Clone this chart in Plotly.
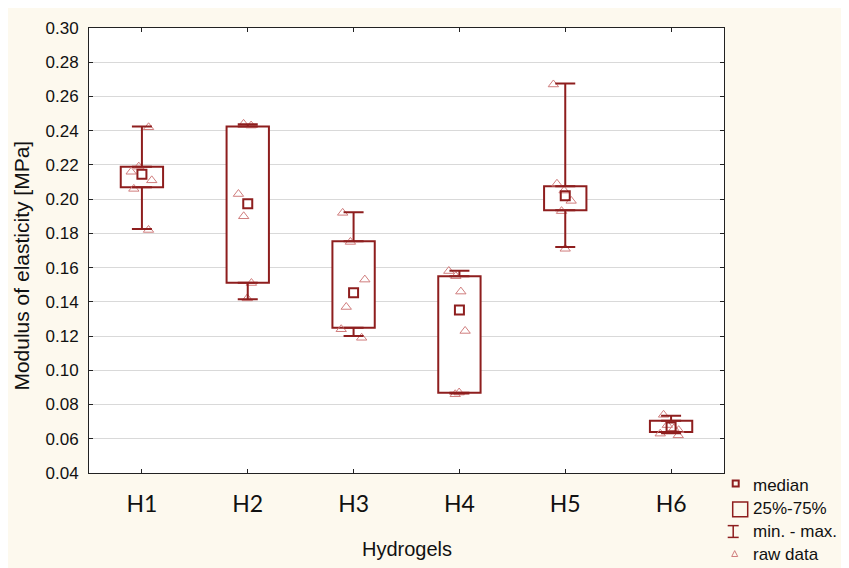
import plotly.graph_objects as go

# ---------------- data ----------------
categories = ["H1", "H2", "H3", "H4", "H5", "H6"]

raw_H1 = [0.242, 0.219, 0.216, 0.211, 0.206, 0.182]
raw_H2 = [0.244, 0.243, 0.203, 0.190, 0.151, 0.142]
raw_H3 = [0.192, 0.175, 0.153, 0.137, 0.124, 0.119]
raw_H4 = [0.158, 0.155, 0.146, 0.123, 0.087, 0.086]
raw_H5 = [0.267, 0.209, 0.205, 0.199, 0.193, 0.171]
raw_H6 = [0.074, 0.068, 0.066, 0.065, 0.063, 0.062]

medians = [0.2145, 0.1973, 0.1453, 0.1352, 0.2020, 0.0669]
q1_vals = [0.2069, 0.1512, 0.1249, 0.0869, 0.1935, 0.0640]
q3_vals = [0.2190, 0.2425, 0.1754, 0.1549, 0.2076, 0.0706]
min_vals = [0.1826, 0.1415, 0.1200, 0.0865, 0.1720, 0.0632]
max_vals = [0.2425, 0.2438, 0.1923, 0.1581, 0.2676, 0.0735]

y_tick_vals = [0.04, 0.06, 0.08, 0.10, 0.12, 0.14, 0.16, 0.18, 0.20, 0.22, 0.24, 0.26, 0.28, 0.30]

legend_labels = ["median", "25%-75%", "min. - max.", "raw data"]

# ---------------- style ----------------
DARK = "#8e1e1e"
LIGHT = "rgba(208,125,125,1)"
CREAM = "rgb(253,249,238)"
OFF = 8                      # browser body margin (white frame)
W, H = 834, 560              # cream figure size
# plot area in page pixels
PL, PT, PR, PB = 89.3, 19.3, 724.3, 473.3
ML = PL - OFF
MT = PT - OFF
MR = W - (PR - OFF)
MB = H - (PB - OFF)
PW = PR - PL
PH = PB - PT


def px(x):
    return (x - PL) / PW


def py(y):
    return (PB - y) / PH


raw_all = [raw_H1, raw_H2, raw_H3, raw_H4, raw_H5, raw_H6]
raw_x = [c for c, vals in zip(categories, raw_all) for _ in vals]
raw_y = [v for vals in raw_all for v in vals]

fig = go.Figure()

# interquartile boxes
fig.add_trace(go.Bar(
    x=categories,
    y=[b - a for a, b in zip(q1_vals, q3_vals)],
    base=q1_vals,
    width=0.4,
    marker=dict(color="white", line=dict(color=DARK, width=2)),
    showlegend=False, hoverinfo="skip",
))

# upper whiskers (q3 -> max)
fig.add_trace(go.Scatter(
    x=categories, y=q3_vals, mode="markers",
    marker=dict(size=1, color="rgba(0,0,0,0)"),
    error_y=dict(type="data", symmetric=False,
                 array=[b - a for a, b in zip(q3_vals, max_vals)],
                 arrayminus=[0] * len(categories),
                 color=DARK, thickness=2, width=10),
    showlegend=False, hoverinfo="skip",
))
# lower whiskers (min -> q1)
fig.add_trace(go.Scatter(
    x=categories, y=q1_vals, mode="markers",
    marker=dict(size=1, color="rgba(0,0,0,0)"),
    error_y=dict(type="data", symmetric=False,
                 array=[0] * len(categories),
                 arrayminus=[a - b for a, b in zip(q1_vals, min_vals)],
                 color=DARK, thickness=2, width=10),
    showlegend=False, hoverinfo="skip",
))

# raw data (jittered points only)
fig.add_trace(go.Box(
    x=raw_x, y=raw_y,
    boxpoints="all", jitter=0.6, pointpos=0, width=0.4,
    line=dict(width=0), fillcolor="rgba(0,0,0,0)",
    marker=dict(symbol="triangle-up-open", size=9, color=LIGHT,
                line=dict(width=1, color=LIGHT)),
    showlegend=False, hoverinfo="skip",
))

# medians
fig.add_trace(go.Scatter(
    x=categories, y=medians, mode="markers",
    marker=dict(symbol="square-open", size=9, color=DARK,
                line=dict(width=2, color=DARK)),
    showlegend=False, hoverinfo="skip",
))

shapes = []
# legend symbols
shapes.append(dict(type="rect", xref="paper", yref="paper",
                   x0=px(733), x1=px(739), y0=py(481), y1=py(487),
                   line=dict(color=DARK, width=2)))
shapes.append(dict(type="rect", xref="paper", yref="paper",
                   x0=px(733), x1=px(748), y0=py(503), y1=py(518),
                   line=dict(color=DARK, width=1.5)))
shapes.append(dict(type="line", xref="paper", yref="paper",
                   x0=px(733.5), x1=px(733.5), y0=py(527), y1=py(539),
                   line=dict(color=DARK, width=1.5)))
shapes.append(dict(type="line", xref="paper", yref="paper",
                   x0=px(728), x1=px(739), y0=py(527), y1=py(527),
                   line=dict(color=DARK, width=1.5)))
shapes.append(dict(type="line", xref="paper", yref="paper",
                   x0=px(728), x1=px(739), y0=py(539), y1=py(539),
                   line=dict(color=DARK, width=1.5)))
shapes.append(dict(type="path", xref="paper", yref="paper",
                   path=f"M {px(732)},{py(558.5)} L {px(738)},{py(558.5)} L {px(735)},{py(552.5)} Z",
                   line=dict(color=LIGHT, width=1)))

FONT = "Liberation Sans, Arial, sans-serif"
annotations = []
for lab, yy in zip(legend_labels, [486, 510, 533, 556]):
    annotations.append(dict(
        text=lab, xref="paper", yref="paper", x=px(751), y=py(yy),
        xanchor="left", yanchor="middle", showarrow=False,
        font=dict(family=FONT, size=17, color="#111"),
    ))
annotations.append(dict(
    text="Modulus of elasticity [MPa]", xref="paper", yref="paper",
    x=px(22), y=py(262), textangle=-90, xanchor="center", yanchor="middle",
    showarrow=False,
    font=dict(family=FONT, size=21, color="#111"),
))
annotations.append(dict(
    text="Hydrogels", xref="paper", yref="paper",
    x=0.5, y=py(551), xanchor="center", yanchor="middle", showarrow=False,
    font=dict(family=FONT, size=20, color="#111"),
))

fig.update_layout(
    width=W, height=H,
    margin=dict(l=ML, r=MR, t=MT, b=MB, pad=0),
    paper_bgcolor=CREAM, plot_bgcolor="white",
    showlegend=False, boxmode="overlay",
    shapes=shapes, annotations=annotations,
    xaxis=dict(
        type="category", categoryorder="array", categoryarray=categories,
        showline=True, linecolor="#222", linewidth=1, mirror="ticks",
        ticks="inside", ticklen=4, tickcolor="#222", showgrid=False,
        tickfont=dict(family="Lato, sans-serif", size=23, color="#111"),
        ticklabelstandoff=10, zeroline=False,
    ),
    yaxis=dict(
        range=[0.04, 0.30], tickvals=y_tick_vals, tickformat=".2f",
        showline=True, linecolor="#222", linewidth=1, mirror="ticks",
        ticks="inside", ticklen=4, tickcolor="#222",
        showgrid=True, gridcolor="#d9d9d9", gridwidth=1, zeroline=False,
        tickfont=dict(family=FONT, size=17, color="#111"),
        ticklabelstandoff=6,
    ),
)

fig.write_html("out.html")
